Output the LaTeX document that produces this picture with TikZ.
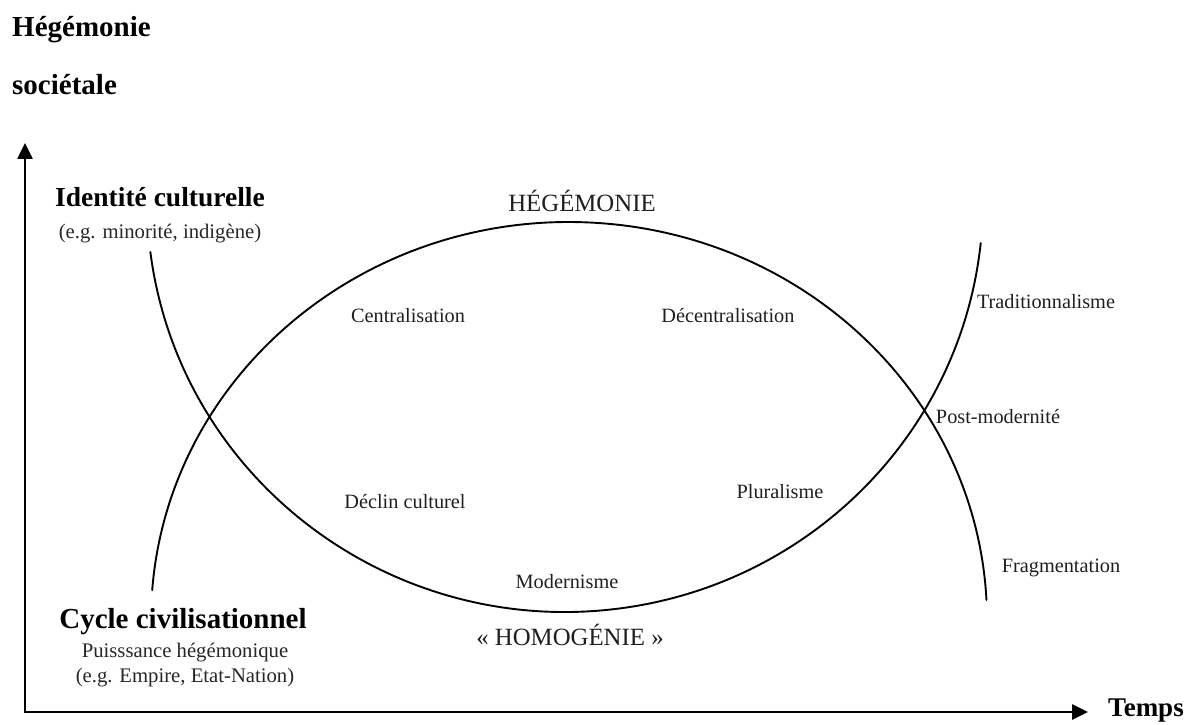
\documentclass[tikz,border=0pt]{standalone}
\usepackage{fontspec}
\setmainfont{Liberation Serif}
\usetikzlibrary{arrows.meta, positioning, calc}
\tikzset{
    axistitle/.style={
        font=\fontsize{29}{34}\selectfont\bfseries,
        anchor=base west,
        inner sep=0pt
    },
    poletitle/.style={
        font=\fontsize{27.5}{32}\selectfont\bfseries,
        anchor=base,
        inner sep=0pt
    },
    polenote/.style={
        font=\fontsize{20.7}{24}\selectfont,
        anchor=base,
        inner sep=0pt,
        text=black!85
    },
    phase/.style={
        font=\fontsize{20.3}{24}\selectfont,
        anchor=base,
        inner sep=0pt,
        text=black!88
    },
    extreme/.style={
        font=\fontsize{24.8}{29}\selectfont,
        anchor=base,
        inner sep=0pt,
        text=black!88
    }
}

\begin{document}
\begin{tikzpicture}[
    x=1pt, y=1pt,
    axis/.style={{Triangle[length=16pt, width=15pt]}-{Triangle[length=16pt, width=15pt]}, line width=2.6pt},
    cycleline/.style={line width=1.9pt, line cap=round}
]
\useasboundingbox (0,0) rectangle (1192,724);

% axes
\coordinate (origin) at (25,12);
\coordinate (ytip) at (25,581);
\coordinate (xtip) at (1088,12);
\draw[axis] (ytip) -- (origin) -- (xtip);

\node[axistitle] (hegtitle) at (12,687) {Hégémonie};
\node[axistitle] (soctitle) at (12,629) {sociétale};
\node[axistitle, font=\fontsize{27}{32}\selectfont\bfseries] (temps) at (1108,7.5) {Temps};

% the two crossing arcs
\coordinate (hubA) at (569,104);
\coordinate (hubB) at (565,524);
\draw[cycleline] ([shift={(175.7:418pt and 398pt)}]hubA) arc[start angle=175.7, end angle=2.9, x radius=418pt, y radius=398pt];
\draw[cycleline] ([shift={(187.25:418pt and 412pt)}]hubB) arc[start angle=187.25, end angle=354, x radius=418pt, y radius=412pt];

% poles
\node[poletitle] (ident) at (160,517) {Identité culturelle};
\node[polenote] (identnote) at (160,485) {(e.g. minorité, indigène)};
\node[poletitle, font=\fontsize{29}{34}\selectfont\bfseries] (cycle) at (183,96) {Cycle civilisationnel};
\node[polenote] (puissance) at (185,67) {Puisssance hégémonique};
\node[polenote] (cyclenote) at (185,42) {(e.g. Empire, Etat-Nation)};

\node[extreme] (hegemonie) at (582,512) {HÉGÉMONIE};
\node[extreme] (homogenie) at (570,79) {« HOMOGÉNIE »};

% phases
\node[phase] (central) at (408,401) {Centralisation};
\node[phase] (decentral) at (728,401) {Décentralisation};
\node[phase] (declin) at (405,216) {Déclin culturel};
\node[phase] (pluralisme) at (780,226) {Pluralisme};
\node[phase] (modernisme) at (567,136) {Modernisme};
\node[phase] (tradition) at (1046,415) {Traditionnalisme};
\node[phase] (postmod) at (998,301) {Post-modernité};
\node[phase] (fragment) at (1061,152) {Fragmentation};

\end{tikzpicture}
\end{document}
